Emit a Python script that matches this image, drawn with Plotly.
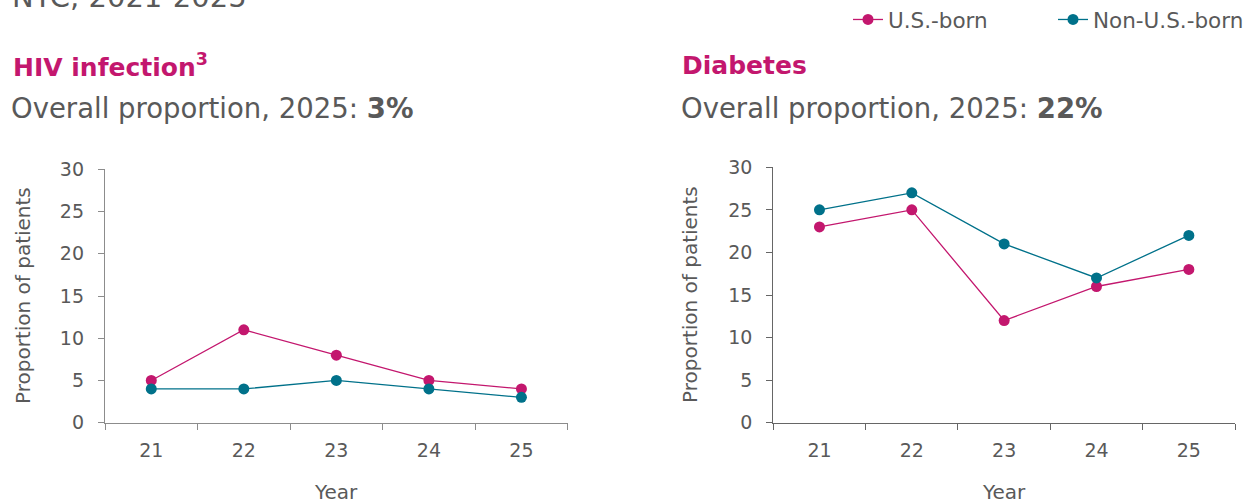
import plotly.graph_objects as go

# Survey years (two-digit labels on the x axis)
years = ["21", "22", "23", "24", "25"]

# HIV infection, proportion of patients (%)
hiv_us_born = [5, 11, 8, 5, 4]
hiv_non_us_born = [4, 4, 5, 4, 3]

# Diabetes, proportion of patients (%)
diab_us_born = [23, 25, 12, 16, 18]
diab_non_us_born = [25, 27, 21, 17, 22]

y_ticks = [0, 5, 10, 15, 20, 25, 30]

MAGENTA = "#C3176E"
TEAL = "#00718A"
GRAY = "#595959"
FONT = "DejaVu Sans"

W, H = 1251, 504


def px_x(x):
    return x / W


def px_y(y):
    return 1 - y / H


fig = go.Figure()

series = [
    ("U.S.-born", MAGENTA, hiv_us_born, diab_us_born),
    ("Non-U.S.-born", TEAL, hiv_non_us_born, diab_non_us_born),
]
for name, color, hiv_vals, diab_vals in series:
    fig.add_trace(go.Scatter(
        x=years, y=hiv_vals, name=name, mode="lines+markers",
        line=dict(color=color, width=1.3),
        marker=dict(color=color, size=11),
        xaxis="x", yaxis="y", legendgroup=name, showlegend=True,
    ))
    fig.add_trace(go.Scatter(
        x=years, y=diab_vals, name=name, mode="lines+markers",
        line=dict(color=color, width=1.3),
        marker=dict(color=color, size=11),
        xaxis="x2", yaxis="y2", legendgroup=name, showlegend=False,
    ))


def x_axis(domain, line_color, anchor):
    return dict(
        domain=domain, anchor=anchor, type="category",
        range=[-0.5, 4.5], tickson="boundaries",
        showline=True, linecolor=line_color, linewidth=1.3,
        ticks="outside", ticklen=6, tickcolor=line_color, tickwidth=1.3,
        ticklabelstandoff=10, automargin=False,
        tickfont=dict(family=FONT, size=19, color=GRAY),
        showgrid=False, zeroline=False, fixedrange=True,
    )


def y_axis(domain, line_color, anchor):
    return dict(
        domain=domain, anchor=anchor, range=[0, 30],
        tickmode="array", tickvals=y_ticks,
        showline=True, linecolor=line_color, linewidth=1.3,
        ticks="outside", ticklen=6, tickcolor=line_color, tickwidth=1.3,
        ticklabelstandoff=10, automargin=False,
        tickfont=dict(family=FONT, size=19, color=GRAY),
        showgrid=False, zeroline=False, fixedrange=True,
    )


fig.update_layout(
    width=W, height=H,
    margin=dict(l=0, r=0, t=0, b=0, autoexpand=False),
    paper_bgcolor="white", plot_bgcolor="white",
    font=dict(family=FONT, color=GRAY),
    xaxis=x_axis([px_x(105), px_x(567.7)], "#8c8c8c", "y"),
    yaxis=y_axis([px_y(422.7), px_y(169.3)], "#8c8c8c", "x"),
    xaxis2=x_axis([px_x(773.3), px_x(1235)], "#666666", "y2"),
    yaxis2=y_axis([px_y(422.7), px_y(167.3)], "#666666", "x2"),
    legend=dict(
        orientation="h", x=px_x(848), xanchor="left", y=px_y(-1), yanchor="top",
        font=dict(family=FONT, size=21.5, color=GRAY),
        entrywidth=160, entrywidthmode="pixels",
        bgcolor="rgba(0,0,0,0)",
    ),
    showlegend=True,
)

annotations = [
    # Header line, partly above the page top
    dict(text="NYC, 2021-2025", x=px_x(10), y=px_y(-3), xanchor="left",
         yanchor="middle", font=dict(size=29, color=GRAY)),
    # Panel titles
    dict(text="<b>HIV infection</b><sup><b>3</b></sup>", x=px_x(11), y=px_y(66),
         xanchor="left", yanchor="middle", font=dict(size=25, color=MAGENTA)),
    dict(text="<b>Diabetes</b>", x=px_x(680), y=px_y(66),
         xanchor="left", yanchor="middle", font=dict(size=25, color=MAGENTA)),
    dict(text="Overall proportion, 2025: <b>3%</b>", x=px_x(9), y=px_y(108),
         xanchor="left", yanchor="middle", font=dict(size=27.5, color=GRAY)),
    dict(text="Overall proportion, 2025: <b>22%</b>", x=px_x(679), y=px_y(108),
         xanchor="left", yanchor="middle", font=dict(size=27.5, color=GRAY)),
    # Axis titles
    dict(text="Proportion of patients", x=px_x(23), y=px_y(296),
         xanchor="center", yanchor="middle", textangle=-90,
         font=dict(size=20, color=GRAY)),
    dict(text="Proportion of patients", x=px_x(690), y=px_y(295),
         xanchor="center", yanchor="middle", textangle=-90,
         font=dict(size=20, color=GRAY)),
    dict(text="Year", x=px_x(336), y=px_y(492), xanchor="center",
         yanchor="middle", font=dict(size=20, color=GRAY)),
    dict(text="Year", x=px_x(1004), y=px_y(492), xanchor="center",
         yanchor="middle", font=dict(size=20, color=GRAY)),
]
for a in annotations:
    a.update(xref="paper", yref="paper", showarrow=False)
    a["font"]["family"] = FONT
fig.update_layout(annotations=annotations)

fig.write_html("out.html", config={"displayModeBar": False})
